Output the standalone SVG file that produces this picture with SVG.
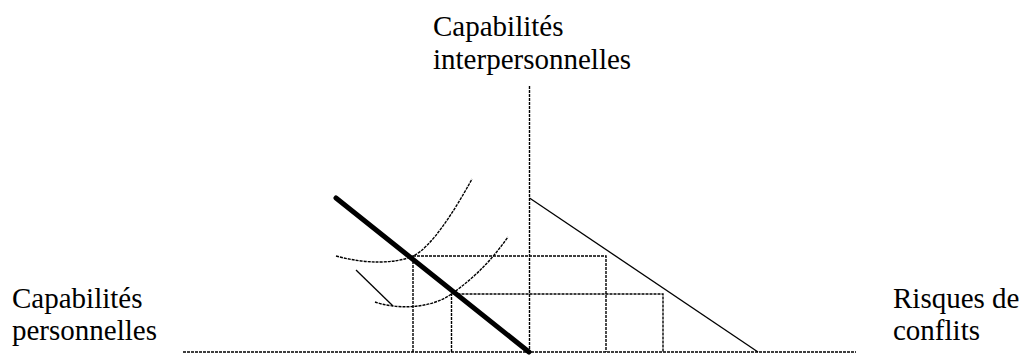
<svg xmlns="http://www.w3.org/2000/svg" width="1027" height="356" viewBox="0 0 1027 356">
<style>
text{font-family:'Liberation Serif','Times New Roman',serif;font-size:29px;fill:#000}
.dash{fill:none;stroke:#000;stroke-width:1.4;stroke-dasharray:3 1}
.solid{fill:none;stroke:#000;stroke-width:1.3}
</style>
<rect width="1027" height="356" fill="#fff"/>
<g id="label-top">
<text x="433" y="36">Capabilités</text>
<text x="433" y="69">interpersonnelles</text>
</g>
<g id="label-left">
<text x="12" y="308">Capabilités</text>
<text x="12" y="340">personnelles</text>
</g>
<g id="label-right">
<text x="893" y="308">Risques de</text>
<text x="893" y="340">conflits</text>
</g>
<g id="connectors">
<line class="dash" x1="183" y1="352" x2="856" y2="352"/>
<line class="dash" x1="529.5" y1="86" x2="529.5" y2="352"/>
<line class="solid" x1="529.5" y1="198" x2="758" y2="352"/>
<polyline class="dash" points="413,352 413,256 606,256 606,352"/>
<polyline class="dash" points="451.5,352 451.5,294 663,294 663,352"/>
<path class="dash" d="M336,256 C365,264 395,264 413,256 S455,210 472,179"/>
<path class="dash" d="M375,302 C395,309 430,310 453,293 S490,262 508,237"/>
<line class="solid" x1="356" y1="270" x2="393" y2="306"/>
<line x1="336" y1="198" x2="529" y2="352" stroke="#000" stroke-width="5" stroke-linecap="round"/>
</g>
</svg>
